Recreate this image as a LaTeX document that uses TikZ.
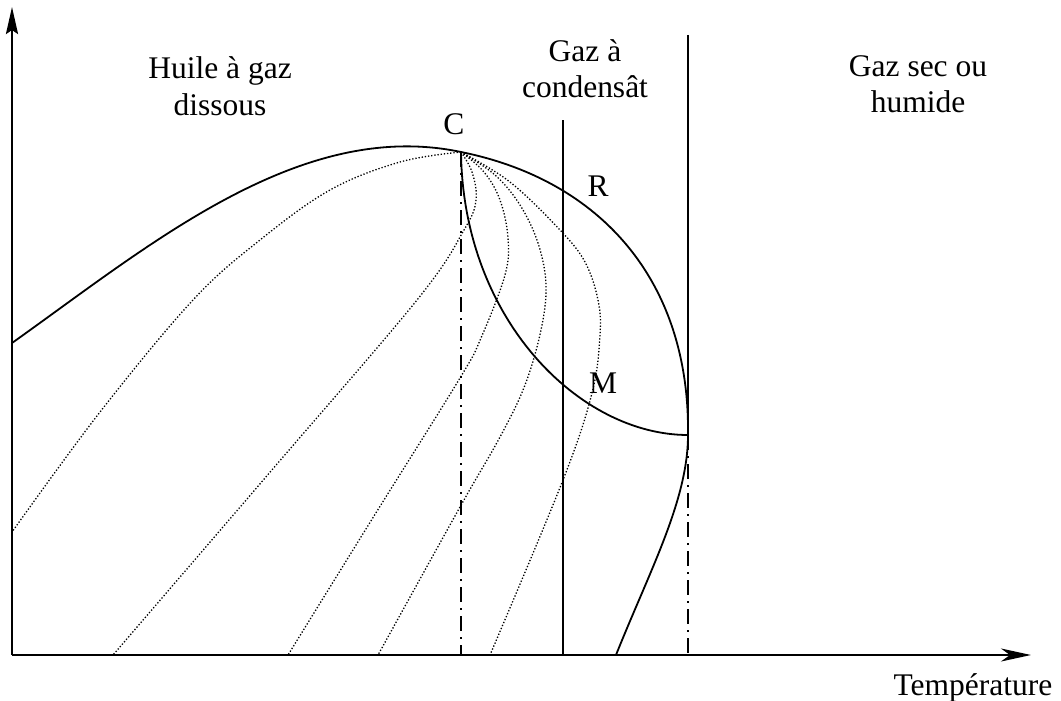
\documentclass[tikz,border=0pt]{standalone}
\usepackage{fontspec}
\setmainfont{Liberation Serif}
\usetikzlibrary{arrows.meta}
\begin{document}
\begin{tikzpicture}[x=1pt,y=-1pt,
  axis/.style={line width=2.6pt},
  curve/.style={line width=1.8pt},
  iso/.style={line width=1.3pt, dash pattern=on 1.3pt off 1.9pt},
  vline/.style={line width=1.8pt},
  dashdot/.style={line width=1.8pt, dash pattern=on 15pt off 6pt on 2pt off 6pt},
  lbl/.style={inner sep=0pt, font=\fontsize{31.5}{36.5}\selectfont, align=center, anchor=base}
]
\useasboundingbox (0,0) rectangle (1061,701);
% axes
\coordinate (O) at (12,655);
\coordinate (Ytop) at (12,7);
\coordinate (Xend) at (1031,655);
\draw[axis,-{Stealth[length=27pt,width=12pt,inset=4pt]}] (O) -- (Ytop);
\draw[axis,-{Stealth[length=30pt,width=13pt,inset=9pt]}] (O) -- (Xend);
% key points
\coordinate (B) at (12,343);
\coordinate (C) at (461,152);
\coordinate (K) at (688,435);
\coordinate (D) at (616,655);
% vertical lines
\coordinate (V1t) at (563,120); \coordinate (V1b) at (563,655);
\coordinate (V2t) at (688,35);
\draw[vline] (V1t) -- (V1b);
\draw[vline] (V2t) -- (K);
\coordinate (Cb) at (461,655);
\coordinate (Kb) at (688,655);
\draw[dashdot] (C) -- (Cb);
\draw[dashdot] (K) -- (Kb);
% bubble + dew curve
\draw[curve] (B) .. controls (150,245) and (300,118) .. (C)
  .. controls (600,180) and (690,280) .. (K)
  .. controls (688,500) and (650,570) .. (D);
% M curve
\draw[curve] (C) .. controls (463,320) and (580,435) .. (K);
% iso-liquid lines
\draw[iso] plot[smooth,tension=0.6] coordinates {(461,152) (400,162) (330,190) (260,240) (193,300) (100,412) (12,532)};
\draw[iso] plot[smooth,tension=0.6] coordinates {(461,152) (472,172) (476,200) (464,230) (417,300) (265,478) (113,655)};
\draw[iso] plot[smooth,tension=0.6] coordinates {(461,152) (484,172) (500,200) (508,238) (505,275) (481,338) (460,378) (374,516) (288,655)};
\draw[iso] plot[smooth,tension=0.6] coordinates {(461,152) (495,175) (520,205) (538,243) (546,285) (541,330) (525,385) (500,437) (460,507) (378,655)};
\draw[iso] plot[smooth,tension=0.6] coordinates {(461,152) (510,182) (560,230) (585,262) (598,300) (600,335) (592,393) (563,480) (490,655)};
% labels
\node[lbl] (huile) at (220,115) {Huile à gaz\\dissous};
\node[lbl] (cond) at (585,98) {Gaz à\\condensât};
\node[lbl] (sec) at (918,113) {Gaz sec ou\\humide};
\node[lbl] (lC) at (454,134) {C};
\node[lbl] (lR) at (598,196) {R};
\node[lbl] (lM) at (603,393) {M};
\node[lbl] (temp) at (973,695) {Température};
\end{tikzpicture}
\end{document}
